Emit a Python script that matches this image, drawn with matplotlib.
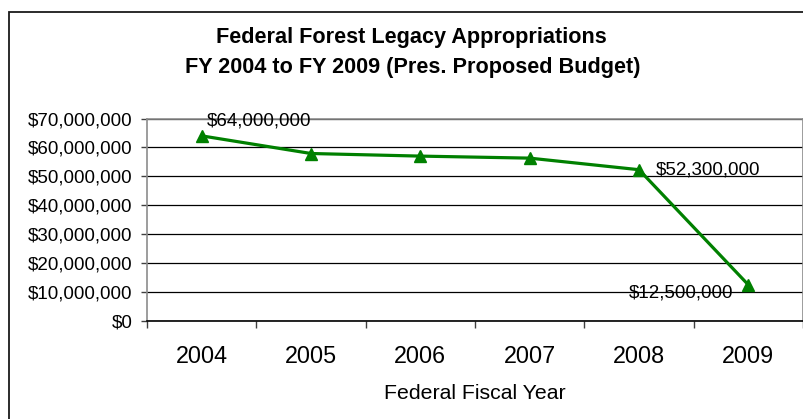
import matplotlib
matplotlib.use("Agg")
import matplotlib.pyplot as plt
from matplotlib.ticker import FuncFormatter, FixedLocator, NullFormatter
from matplotlib.patches import Rectangle

years = ["2004", "2005", "2006", "2007", "2008", "2009"]
values = [64000000, 57900000, 57000000, 56300000, 52300000, 12500000]
labeled = {0: "$64,000,000", 4: "$52,300,000", 5: "$12,500,000"}
title_lines = ["Federal Forest Legacy Appropriations",
               "FY 2004 to FY 2009 (Pres. Proposed Budget)"]
xlabel = "Federal Fiscal Year"

plt.rcParams['font.family'] = ['Liberation Sans', 'DejaVu Sans']

W, H = 804, 419
fig = plt.figure(figsize=(W / 100, H / 100), dpi=100)
fig.patch.set_facecolor('white')

# outer chart border (right/bottom clipped off-image)
fig.patches.append(Rectangle((9.5 / W, -0.2), 1.5, 1.2 - 12 / H,
                             transform=fig.transFigure, fill=False,
                             edgecolor='#1a1a1a', lw=1.3, clip_on=False))

left, right, top, bottom = 147, 803, 118.5, 321
ax = fig.add_axes([left / W, (H - bottom) / H, (right - left) / W, (bottom - top) / H])

x = list(range(len(years)))
ax.plot(x, values, color='#008000', lw=2.3, marker='^', markersize=9,
        markerfacecolor='#008000', markeredgecolor='#008000', zorder=3,
        clip_on=False)

ax.set_xlim(-0.5, len(years) - 0.5)
ax.set_ylim(0, 70000000)
ax.set_yticks([i * 10000000 for i in range(8)])
ax.yaxis.set_major_formatter(FuncFormatter(lambda v, p: f"${v:,.0f}"))
ax.yaxis.grid(True, color='black', lw=0.9)
ax.set_axisbelow(True)

# category ticks between categories
ax.xaxis.set_major_locator(FixedLocator([i - 0.5 for i in range(len(years) + 1)]))
ax.xaxis.set_major_formatter(NullFormatter())
ax.xaxis.set_minor_locator(FixedLocator(x))
ax.set_xticklabels(years, minor=True)
ax.tick_params(axis='x', which='minor', length=0, labelsize=16.8, pad=17)
ax.tick_params(axis='x', which='major', length=5, width=1, color='#404040', direction='out')
ax.tick_params(axis='y', length=4, width=1, color='#404040', labelsize=13.5, pad=6.5)

for s in ['top', 'right', 'left']:
    ax.spines[s].set_color('#8c8c8c')
    ax.spines[s].set_linewidth(1.2)
ax.spines['bottom'].set_color('black')
ax.spines['bottom'].set_linewidth(1.2)

ax.set_xlabel(xlabel, fontsize=15.3, labelpad=12)

offsets = {0: ((4, 11), 'left', 'center'),
           4: ((12, 0), 'left', 'center'),
           5: ((-11, -6), 'right', 'center')}
for i, txt in labeled.items():
    off, ha, va = offsets[i]
    ax.annotate(txt, (x[i], values[i]), xytext=off, textcoords='offset points',
                ha=ha, va=va, fontsize=13.5, zorder=4, annotation_clip=False)

fig.text(411 / W, 1 - 38 / H, title_lines[0], ha='center', va='center',
         fontsize=15.6, fontweight='bold')
fig.text(413 / W, 1 - 68 / H, title_lines[1], ha='center', va='center',
         fontsize=15.6, fontweight='bold')

fig.savefig("out.png", dpi=100, facecolor='white')
